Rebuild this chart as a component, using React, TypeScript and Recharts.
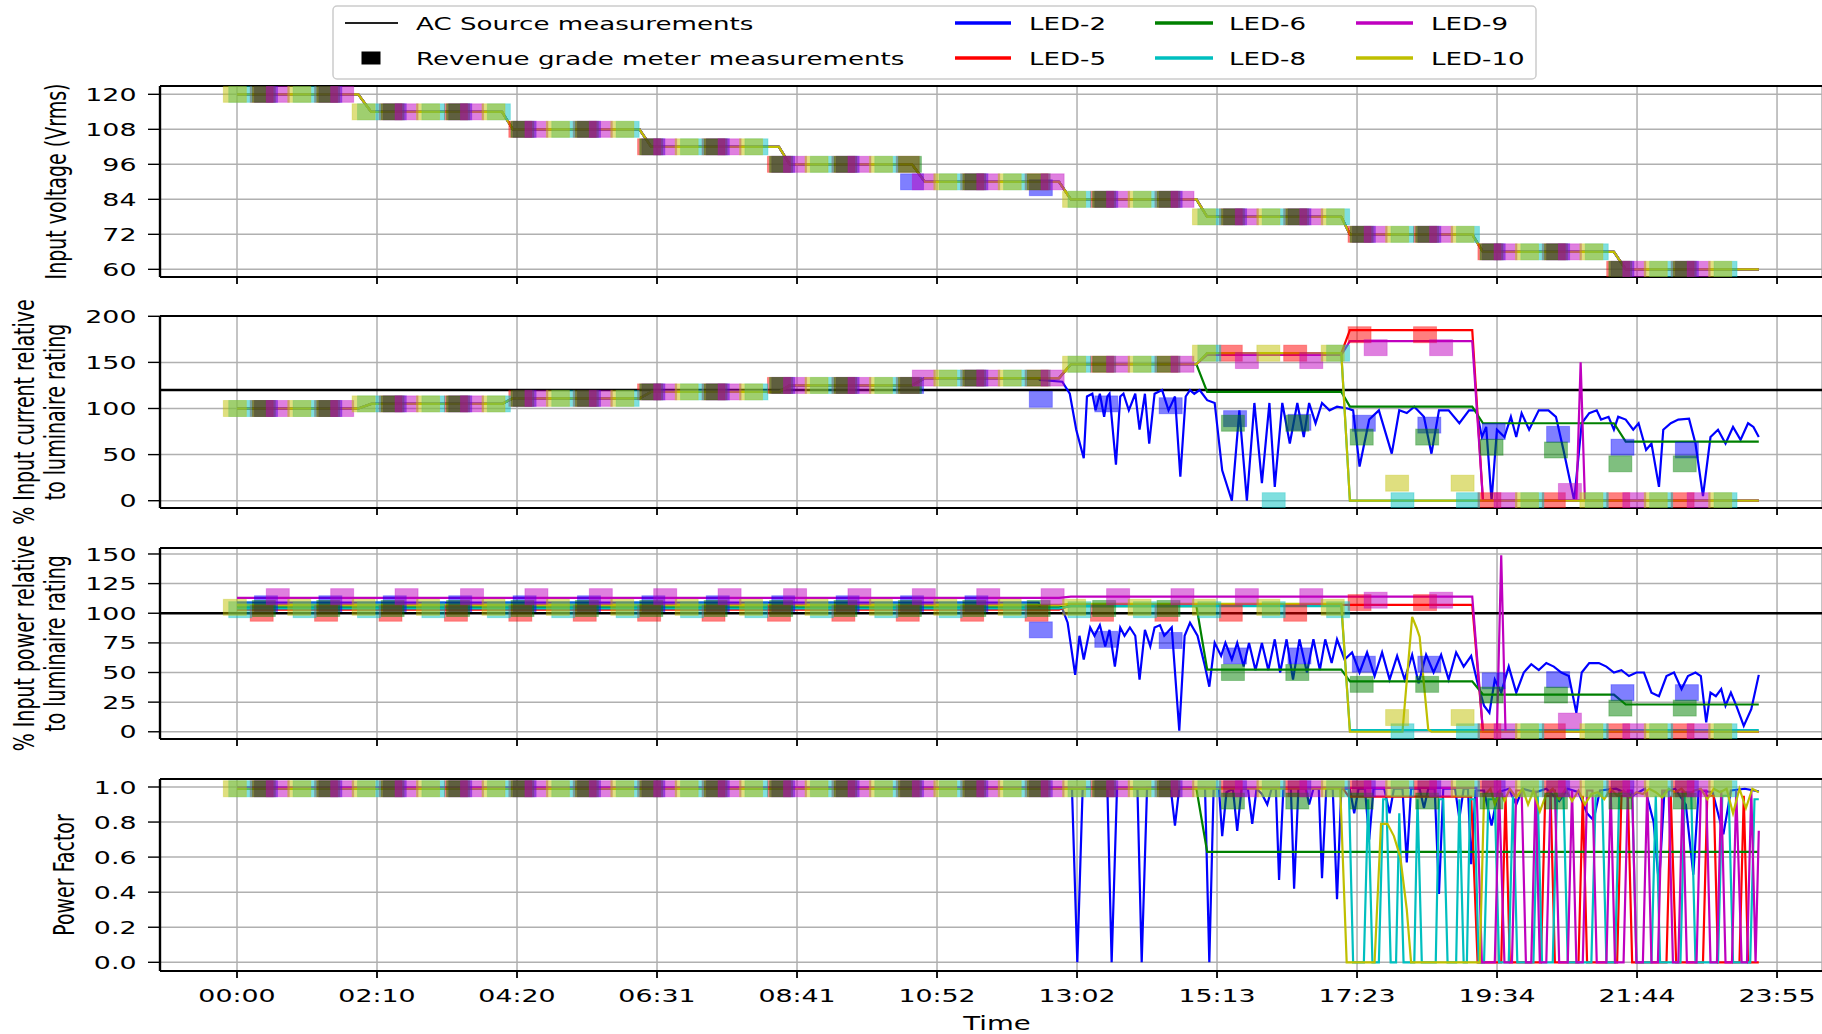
import React from 'react';
import { ComposedChart, Line, Scatter, XAxis, YAxis, CartesianGrid, ReferenceLine } from 'recharts';

type Pt = { t: number; v: number };
type Pair = [number, number];

const FONT = '"DejaVu Sans", sans-serif';
const SX = 1.45;
const W = 1822;

// ---------- shared axis data ----------
const ledNames = ['LED-2', 'LED-5', 'LED-6', 'LED-8', 'LED-9', 'LED-10'];
const ledColors = ['#0000ff', '#ff0000', '#008000', '#00bfbf', '#bf00bf', '#bfbf00'];
const xTickMinutes = [0, 130.45, 260.91, 391.36, 521.82, 652.27, 782.73, 913.18, 1043.64, 1174.09, 1304.55, 1435];
const xTickLabels = ['00:00', '02:10', '04:20', '06:31', '08:41', '10:52', '13:02', '15:13', '17:23', '19:34', '21:44', '23:55'];
const xDomain: [number, number] = [-71.75, 1476.9];

// step schedule (minutes)
const dropStart = [113, 247, 375, 505, 629, 766, 894, 1029, 1151, 1283];
const dropEnd = [125, 257, 386, 515, 641, 777, 904, 1037, 1161, 1294];
const endTime = 1418;

// revenue meter schedule (minutes) and per-LED offsets (LED-2,5,6,8,9,10)
const meterBase = [-37, 23, 83, 143, 204, 264, 324, 384, 444, 505, 565, 625, 685, 745, 806, 866, 926, 986, 1046, 1107, 1167, 1227, 1287, 1347, 1407];
const meterOffsets = [4, 0, 2, 40, 15, 35];

// ---------- panel 1: input voltage ----------
const voltageLevels = [120, 114, 108, 102, 96, 90, 84, 78, 72, 66, 60];
const volSqLED2 = [null, 120, 120, 114, 114, 108, 108, 102, 102, 96, 96, 90, 90, 88, 84, 84, 78, 78, 72, 72, 66, 66, 60, 60, null];
const volSqLED5 = [null, 120, 120, 114, 114, 108, 108, 102, 102, 96, 96, 96, 90, 90, 84, 84, 78, 78, 72, 72, 66, 66, 60, 60, null];
const volSqLED6 = [null, 120, 120, 114, 114, 108, 108, 102, 102, 96, 96, 96, 90, 90, 84, 84, 78, 78, 72, 72, 66, 66, 60, 60, null];
const volSqLED8 = [120, 120, 114, 114, 114, 108, 108, 102, 102, 96, 96, 90, 90, 84, 84, 78, 78, 78, 72, 72, 66, 66, 60, 60, null];
const volSqLED9 = [null, 120, 120, 114, 114, 108, 108, 102, 102, 96, 96, 90, 90, 90, 84, 84, 78, 78, 72, 72, 66, 66, 60, 60, null];
const volSqLED10 = [120, 120, 114, 114, 114, 108, 108, 102, 102, 96, 96, 90, 90, 84, 84, 78, 78, 78, 72, 72, 66, 66, 60, 60, null];

// ---------- panel 2: % input current ----------
const curLevelsLED2 = [100, 105, 111, 118, 125, 133];
const curNoisyLED2: Pair[] = [[748, 131], [769, 129], [776, 116], [782, 77], [789, 46], [792, 113], [797, 116], [800, 98], [804, 116], [808, 91], [811, 113], [813, 116], [819, 39], [823, 113], [826, 116], [831, 98], [837, 116], [841, 77], [846, 116], [850, 62], [855, 116], [862, 120], [868, 98], [874, 113], [879, 26], [884, 113], [888, 120], [892, 116], [897, 120], [904, 109], [911, 106], [918, 33], [927, 0], [934, 98], [941, 0], [948, 106], [955, 19], [962, 106], [967, 15], [974, 106], [981, 62], [988, 106], [994, 69], [999, 106], [1005, 84], [1011, 106], [1018, 98], [1025, 102], [1035, 100], [1040, 98], [1046, 37], [1055, 88], [1064, 98], [1076, 51], [1083, 98], [1090, 95], [1097, 102], [1106, 91], [1113, 51], [1120, 98], [1129, 98], [1139, 84], [1148, 98], [1155, 98], [1160, 69], [1164, 80], [1169, 0], [1174, 77], [1181, 69], [1187, 91], [1192, 69], [1197, 95], [1204, 77], [1213, 98], [1222, 98], [1229, 91], [1236, 55], [1246, 0], [1253, 84], [1260, 95], [1267, 98], [1271, 88], [1278, 91], [1283, 77], [1287, 91], [1294, 88], [1301, 77], [1306, 84], [1313, 55], [1318, 62], [1325, 15], [1329, 77], [1336, 84], [1343, 88], [1353, 89], [1359, 62], [1366, 5], [1373, 69], [1380, 77], [1387, 62], [1394, 80], [1401, 66], [1408, 84], [1413, 80], [1418, 69]];
const curLevelsLED5 = [100, 105, 111, 118, 125, 133, 148, 160, 185, 0, 0];
const curLevelsLED6 = [100, 105, 111, 118, 125, 133, 148, 118, 102, 84, 64];
const curLevelsLED8 = [100, 105, 111, 118, 125, 133, 148, 160, 0, 0, 0];
const curLevelsLED9 = [100, 105, 111, 118, 125, 133, 148, 158, 173, 0, 0];
const curSpikeLED9: Pair[] = [[1248, 0], [1252, 150], [1256, 0]];
const curLevelsLED10 = [100, 105, 111, 118, 125, 133, 148, 160, 0, 0, 0];
const curSqLED2 = [null, 100, 100, 105, 105, 111, 111, 118, 118, 125, 125, 125, 133, 110, 105, 103, 89, 85, 84, 82, 75, 72, 58, 55, null];
const curSqLED5 = [null, 100, 100, 105, 105, 111, 111, 118, 118, 125, 125, 125, 133, 133, 148, 148, 160, 160, 180, 180, 0, 0, 0, 0, null];
const curSqLED6 = [null, 100, 100, 105, 105, 111, 111, 118, 118, 125, 125, 125, 133, 133, 148, 148, 84, 84, 69, 69, 58, 55, 40, 40, null];
const curSqLED8 = [100, 100, 105, 105, 105, 111, 111, 118, 118, 125, 125, 133, 133, 148, 148, 160, 0, 160, 0, 0, 0, 0, 0, 0, null];
const curSqLED9 = [null, 100, 100, 105, 105, 111, 111, 118, 118, 125, 125, 133, 133, 133, 148, 148, 152, 152, 166, 166, 0, 10, 0, 0, null];
const curSqLED10 = [100, 100, 105, 105, 105, 111, 111, 118, 118, 125, 125, 133, 133, 148, 148, 160, 160, 160, 19, 19, 0, 0, 0, 0, null];

// ---------- panel 3: % input power ----------
const powLevelsLED2 = [109, 109, 109, 109, 109, 109];
const powNoisyLED2: Pair[] = [[748, 104], [769, 104], [774, 92], [781, 48], [785, 81], [789, 61], [795, 88], [799, 81], [804, 90], [809, 72], [813, 86], [818, 55], [823, 88], [827, 81], [832, 88], [837, 81], [841, 44], [846, 86], [851, 72], [855, 88], [860, 90], [864, 81], [871, 88], [878, 1], [883, 81], [888, 92], [895, 81], [902, 55], [906, 38], [911, 75], [917, 64], [921, 75], [927, 61], [932, 75], [938, 55], [943, 75], [949, 52], [955, 75], [961, 52], [967, 78], [972, 50], [978, 78], [984, 44], [990, 78], [997, 50], [1003, 78], [1009, 52], [1014, 78], [1020, 58], [1025, 78], [1032, 61], [1039, 67], [1046, 50], [1053, 67], [1060, 47], [1067, 67], [1074, 44], [1081, 64], [1088, 44], [1095, 65], [1101, 41], [1108, 65], [1115, 50], [1122, 65], [1129, 44], [1136, 67], [1143, 55], [1150, 64], [1156, 41], [1162, 22], [1167, 16], [1172, 44], [1178, 33], [1185, 55], [1192, 33], [1199, 50], [1206, 57], [1213, 52], [1220, 58], [1227, 55], [1234, 50], [1241, 47], [1248, 16], [1253, 50], [1260, 58], [1269, 58], [1276, 55], [1283, 50], [1290, 52], [1297, 47], [1304, 50], [1311, 50], [1318, 33], [1325, 30], [1332, 47], [1339, 50], [1346, 36], [1352, 47], [1359, 50], [1364, 47], [1369, 8], [1373, 33], [1378, 30], [1383, 36], [1387, 22], [1392, 33], [1397, 22], [1404, 5], [1411, 19], [1418, 48]];
const powLevelsLED5 = [103, 103, 103, 103, 103, 103, 107, 107, 107, 0, 0];
const powLevelsLED6 = [105, 105, 105, 105, 105, 105, 106, 52.5, 42.6, 31.4, 23];
const powLevelsLED8 = [104, 104, 104, 104, 104, 104, 106, 106, 1.5, 1.5, 1.5];
const powLevelsLED9 = [113, 113, 113, 113, 113, 113, 114, 114, 114, 0, 0];
const powSpikeLED9: Pair[] = [[1174, 0], [1178, 149], [1182, 0]];
const powLevelsLED10 = [107, 107, 107, 107, 107, 107, 108, 108, 0, 0, 0];
const powBumpLED10: Pair[] = [[1086, 0], [1095, 97], [1099, 88], [1102, 80], [1106, 40], [1110, 2], [1113, 0]];
const powSqLED2 = [null, 108, 108, 108, 108, 108, 108, 108, 108, 108, 108, 108, 108, 86, 78, 77, 64, 64, 57, 57, 43, 44, 33, 33, null];
const powSqLED5 = [null, 100, 100, 100, 100, 100, 100, 100, 100, 100, 100, 100, 100, 100, 100, 100, 100, 100, 109, 109, 0, 0, 0, 0, null];
const powSqLED6 = [null, 104, 104, 104, 104, 104, 104, 104, 104, 104, 104, 104, 104, 104, 104, 104, 50, 50, 40, 40, 31, 31, 20, 20, null];
const powSqLED8 = [103, 103, 103, 103, 103, 103, 103, 103, 103, 103, 103, 103, 103, 103, 103, 103, 103, 103, 0, 0, 0, 0, 0, 0, null];
const powSqLED9 = [null, 114, 114, 114, 114, 114, 114, 114, 114, 114, 114, 114, 114, 114, 114, 114, 114, 114, 111, 111, 0, 9, 0, 0, null];
const powSqLED10 = [105, 105, 105, 105, 105, 105, 105, 105, 105, 105, 105, 105, 105, 105, 105, 105, 105, 105, 12, 12, 0, 0, 0, 0, null];

// ---------- panel 4: power factor ----------
const pfLED2: Pair[] = [[0, 0.995], [778, 0.995], [783, 0], [788, 0.995], [811, 0.995], [815, 0], [820, 0.995], [839, 0.995], [843, 0], [848, 0.995], [870, 0.995], [874, 0.78], [878, 0.995], [902, 0.995], [906, 0], [910, 0.99], [915, 0.99], [918, 0.72], [922, 0.97], [928, 0.99], [932, 0.75], [936, 0.99], [942, 0.99], [946, 0.79], [950, 0.99], [955, 0.96], [960, 0.9], [964, 0.99], [968, 0.99], [971, 0.47], [975, 0.99], [982, 0.99], [985, 0.42], [989, 0.99], [996, 0.99], [999, 0.9], [1003, 0.99], [1008, 0.99], [1011, 0.48], [1015, 0.99], [1021, 0.99], [1025, 0.36], [1029, 0.99], [1037, 0.99], [1041, 0.85], [1045, 0.99], [1051, 0.99], [1055, 0.7], [1059, 0.99], [1069, 0.99], [1074, 0.85], [1078, 0.99], [1086, 0.99], [1090, 0.57], [1094, 0.99], [1102, 0.99], [1106, 0.88], [1110, 0.99], [1116, 0.99], [1120, 0.39], [1124, 0.99], [1135, 0.99], [1139, 0.82], [1143, 0.99], [1147, 0.99], [1150, 0.56], [1154, 0.98], [1162, 0.98], [1169, 0.78], [1175, 0.97], [1185, 0.99], [1192, 0.9], [1198, 0.99], [1210, 0.97], [1220, 0.99], [1232, 0.92], [1240, 0.99], [1250, 0.97], [1258, 0.85], [1264, 0.81], [1270, 0.98], [1285, 0.99], [1300, 0.95], [1312, 0.99], [1320, 0.8], [1325, 0.44], [1330, 0.97], [1340, 0.99], [1350, 0.9], [1357, 0.5], [1362, 0.98], [1375, 0.97], [1385, 0.73], [1392, 0.98], [1405, 0.99], [1418, 0.975]];
const pfLED5: Pair[] = [[0, 0.995], [1030, 0.995], [1036, 0.945], [1150, 0.945], [1156, 0], [1178, 0], [1182, 0.95], [1186, 0], [1215, 0], [1219, 0.95], [1224, 0.95], [1228, 0], [1250, 0], [1254, 0.95], [1258, 0], [1286, 0], [1290, 0.95], [1296, 0.95], [1300, 0], [1332, 0], [1336, 0.95], [1341, 0], [1366, 0], [1370, 0.95], [1376, 0.95], [1380, 0], [1400, 0], [1404, 0.95], [1408, 0], [1418, 0]];
const pfLevelsLED6 = [0.99, 0.99, 0.99, 0.99, 0.99, 0.99, 0.99, 0.63, 0.63, 0.63, 0.63];
const pfLED8: Pair[] = [[0, 0.995], [1036, 0.995], [1040, 0], [1050, 0], [1054, 0.93], [1058, 0], [1064, 0], [1068, 0.93], [1071, 0.93], [1075, 0], [1080, 0], [1083, 0.85], [1087, 0], [1097, 0], [1100, 0.93], [1104, 0], [1117, 0], [1120, 0.93], [1124, 0.93], [1128, 0], [1136, 0], [1139, 0.93], [1143, 0], [1146, 0], [1149, 0.93], [1153, 0.93], [1157, 0], [1162, 0], [1166, 0.93], [1172, 0.93], [1176, 0], [1185, 0], [1189, 0.95], [1193, 0], [1208, 0], [1212, 0.95], [1216, 0], [1226, 0], [1230, 0.95], [1236, 0.95], [1240, 0], [1262, 0], [1266, 0.95], [1272, 0.97], [1276, 0], [1284, 0], [1288, 0.97], [1300, 0.97], [1304, 0], [1318, 0], [1322, 0.95], [1326, 0], [1345, 0], [1349, 0.97], [1355, 0.97], [1359, 0], [1380, 0], [1384, 0.95], [1390, 0.95], [1394, 0], [1410, 0], [1414, 0.93], [1418, 0.93]];
const pfLED9: Pair[] = [[0, 0.995], [1155, 0.995], [1160, 0], [1172, 0], [1176, 0.98], [1181, 0], [1188, 0], [1192, 0.98], [1197, 0.98], [1201, 0], [1206, 0], [1210, 0.98], [1214, 0], [1220, 0], [1224, 0.98], [1228, 0.98], [1232, 0], [1240, 0], [1244, 0.98], [1248, 0], [1254, 0], [1258, 0.98], [1263, 0.98], [1267, 0], [1276, 0], [1280, 0.98], [1284, 0], [1292, 0], [1296, 0.98], [1300, 0.98], [1304, 0], [1310, 0], [1314, 0.98], [1318, 0], [1324, 0], [1328, 0.98], [1334, 0.98], [1338, 0], [1343, 0], [1347, 0.98], [1351, 0], [1360, 0], [1364, 0.98], [1369, 0.98], [1373, 0], [1379, 0], [1383, 0.98], [1387, 0], [1393, 0], [1397, 0.98], [1402, 0], [1407, 0], [1411, 0.98], [1415, 0], [1418, 0.75]];
const pfLED10: Pair[] = [[0, 0.99], [1028, 0.99], [1034, 0], [1060, 0], [1066, 0.79], [1072, 0.79], [1078, 0.72], [1084, 0.6], [1090, 0.3], [1094, 0], [1158, 0], [1162, 0.95], [1168, 0.99], [1172, 0.9], [1177, 0.98], [1181, 0.92], [1186, 0.99], [1192, 0.94], [1198, 0.99], [1203, 0.9], [1208, 0.98], [1214, 0.86], [1220, 0.96], [1226, 0.99], [1232, 0.93], [1238, 0.99], [1244, 0.92], [1250, 0.98], [1256, 0.9], [1262, 0.96], [1268, 0.97], [1274, 0.93], [1280, 0.99], [1286, 0.95], [1292, 0.98], [1298, 0.94], [1304, 0.97], [1310, 0.96], [1316, 0.99], [1322, 0.97], [1328, 0.94], [1334, 0.99], [1340, 0.97], [1346, 0.99], [1352, 0.95], [1358, 0.98], [1364, 0.99], [1370, 0.93], [1376, 0.99], [1382, 0.97], [1388, 0.99], [1394, 0.85], [1400, 0.99], [1406, 0.88], [1412, 0.99], [1418, 0.97]];
const pfSqLED2 = [null, 0.99, 0.99, 0.99, 0.99, 0.99, 0.99, 0.99, 0.99, 0.99, 0.99, 0.99, 0.99, 0.99, 0.99, 0.99, 0.99, 0.99, 0.99, 0.99, 0.99, 0.99, 0.99, 0.99, null];
const pfSqLED5 = [null, 0.99, 0.99, 0.99, 0.99, 0.99, 0.99, 0.99, 0.99, 0.99, 0.99, 0.99, 0.99, 0.99, 0.99, 0.99, 0.99, 0.99, 0.99, 0.99, 0.99, 0.99, 0.99, 0.99, null];
const pfSqLED6 = [null, 0.99, 0.99, 0.99, 0.99, 0.99, 0.99, 0.99, 0.99, 0.99, 0.99, 0.99, 0.99, 0.99, 0.99, 0.99, 0.92, 0.92, 0.92, 0.92, 0.92, 0.92, 0.92, 0.92, null];
const pfSqLED8 = [0.99, 0.99, 0.99, 0.99, 0.99, 0.99, 0.99, 0.99, 0.99, 0.99, 0.99, 0.99, 0.99, 0.99, 0.99, 0.99, 0.99, 0.99, 0.99, 0.99, 0.99, 0.99, 0.99, 0.99, null];
const pfSqLED9 = [null, 0.99, 0.99, 0.99, 0.99, 0.99, 0.99, 0.99, 0.99, 0.99, 0.99, 0.99, 0.99, 0.99, 0.99, 0.99, 0.99, 0.99, 0.99, 0.99, 0.99, 0.99, 0.99, 0.99, null];
const pfSqLED10 = [0.99, 0.99, 0.99, 0.99, 0.99, 0.99, 0.99, 0.99, 0.99, 0.99, 0.99, 0.99, 0.99, 0.99, 0.99, 0.99, 0.99, 0.99, 0.99, 0.99, 0.99, 0.99, 0.99, 0.99, null];

// ---------- helpers ----------
function stepSeries(levels: number[], until: number = endTime): Pt[] {
  const pts: Pt[] = [];
  for (let k = 0; k < levels.length; k++) {
    const s = k === 0 ? 0 : dropEnd[k - 1];
    if (s > until) break;
    const e = k === levels.length - 1 ? until : Math.min(dropStart[k], until);
    pts.push({ t: s, v: levels[k] }, { t: e, v: levels[k] });
  }
  return pts;
}
const toPts = (p: Pair[]): Pt[] => p.map(([t, v]) => ({ t, v }));
const merge = (a: Pt[], b: Pair[]): Pt[] => [...a, ...toPts(b)].sort((x, y) => x.t - y.t);
function squarePts(led: number, vals: (number | null)[]): Pt[] {
  const out: Pt[] = [];
  vals.forEach((v, i) => {
    if (v === null || v === undefined) return;
    const t = meterBase[i] + meterOffsets[led];
    if (t < -5 || t > endTime) return;
    out.push({ t, v });
  });
  return out;
}

interface PanelCfg {
  top: number;
  bottom: number;
  domain: [number, number];
  ticks: number[];
  fmt: (v: number) => string;
  lines: Pt[][];
  squares: Pt[][];
  refY: number | null;
  labelLines: string[];
  labelX: number[];
}

const panels: PanelCfg[] = [
  {
    top: 86, bottom: 277, domain: [57.37, 122.85], ticks: [60, 72, 84, 96, 108, 120], fmt: (v) => String(v),
    lines: [0, 1, 2, 3, 4, 5].map(() => stepSeries(voltageLevels)),
    squares: [volSqLED2, volSqLED5, volSqLED6, volSqLED8, volSqLED9, volSqLED10].map((s, i) => squarePts(i, s)),
    refY: null, labelLines: ['Input voltage (Vrms)'], labelX: [57],
  },
  {
    top: 316, bottom: 508, domain: [-7.9, 200.3], ticks: [0, 50, 100, 150, 200], fmt: (v) => String(v),
    lines: [
      merge(stepSeries(curLevelsLED2, 747), curNoisyLED2),
      stepSeries(curLevelsLED5),
      stepSeries(curLevelsLED6),
      stepSeries(curLevelsLED8),
      merge(stepSeries(curLevelsLED9), curSpikeLED9),
      stepSeries(curLevelsLED10),
    ],
    squares: [curSqLED2, curSqLED5, curSqLED6, curSqLED8, curSqLED9, curSqLED10].map((s, i) => squarePts(i, s)),
    refY: 120, labelLines: ['% Input current relative', 'to luminaire rating'], labelX: [25, 56],
  },
  {
    top: 548, bottom: 739, domain: [-6.1, 155.05], ticks: [0, 25, 50, 75, 100, 125, 150], fmt: (v) => String(v),
    lines: [
      merge(stepSeries(powLevelsLED2, 747), powNoisyLED2),
      stepSeries(powLevelsLED5),
      stepSeries(powLevelsLED6),
      stepSeries(powLevelsLED8),
      merge(stepSeries(powLevelsLED9), powSpikeLED9),
      merge(stepSeries(powLevelsLED10), powBumpLED10),
    ],
    squares: [powSqLED2, powSqLED5, powSqLED6, powSqLED8, powSqLED9, powSqLED10].map((s, i) => squarePts(i, s)),
    refY: 100, labelLines: ['% Input power relative', 'to luminaire rating'], labelX: [25, 56],
  },
  {
    top: 779, bottom: 971, domain: [-0.0496, 1.0456], ticks: [0, 0.2, 0.4, 0.6, 0.8, 1.0], fmt: (v) => v.toFixed(1),
    lines: [toPts(pfLED2), toPts(pfLED5), stepSeries(pfLevelsLED6), toPts(pfLED8), toPts(pfLED9), toPts(pfLED10)],
    squares: [pfSqLED2, pfSqLED5, pfSqLED6, pfSqLED8, pfSqLED9, pfSqLED10].map((s, i) => squarePts(i, s)),
    refY: null, labelLines: ['Power Factor'], labelX: [65],
  },
];

const SQ_W = 23;
const SQ_H = 16;
const makeSquare = (color: string) => (props: any) => {
  const { cx, cy } = props;
  if (cx == null || cy == null || isNaN(cx) || isNaN(cy)) return <g />;
  return (
    <rect x={cx - SQ_W / 2} y={cy - SQ_H / 2} width={SQ_W} height={SQ_H} fill={color} fillOpacity={0.5}
      stroke={color} strokeOpacity={0.3} strokeWidth={1} />
  );
};

const XTickLabel = (props: any) => {
  const { x, y, index } = props;
  const label = xTickLabels[index] ?? '';
  return (
    <text transform={`translate(${x},${y + 21.5}) scale(${SX},1)`} textAnchor="middle" fontFamily={FONT} fontSize={18.5} fill="#000">
      {label}
    </text>
  );
};
const NoTick = () => <g />;
const makeYTick = (fmt: (v: number) => string) => (props: any) => {
  const { x, y, payload } = props;
  return (
    <text transform={`translate(${x},${y + 6.6}) scale(${SX},1)`} textAnchor="end" fontFamily={FONT} fontSize={18.5} fill="#000">
      {fmt(payload.value)}
    </text>
  );
};

function Panel({ cfg, last }: { cfg: PanelCfg; last: boolean }) {
  const xh = last ? 60 : 20;
  const H = cfg.bottom - cfg.top + 10 + xh;
  return (
    <div style={{ position: 'absolute', left: 0, top: cfg.top - 10 }}>
      <ComposedChart width={W} height={H} margin={{ top: 10, right: 0, bottom: 0, left: 0 }}>
        <CartesianGrid stroke="#b0b0b0" strokeWidth={1.5} />
        <XAxis dataKey="t" type="number" domain={xDomain} allowDataOverflow ticks={xTickMinutes} interval={0}
          height={xh} tickSize={7} tickMargin={2}
          axisLine={{ stroke: '#000', strokeWidth: 2 }} tickLine={{ stroke: '#000', strokeWidth: 1.8 }}
          tick={last ? XTickLabel : NoTick} />
        <YAxis type="number" domain={cfg.domain} allowDataOverflow ticks={cfg.ticks} interval={0} width={160}
          tickSize={12} tickMargin={11.5}
          axisLine={{ stroke: '#000', strokeWidth: 2.4 }} tickLine={{ stroke: '#000', strokeWidth: 1.4 }}
          tick={makeYTick(cfg.fmt)} />
        <ReferenceLine y={cfg.domain[1]} stroke="#000" strokeWidth={2} />
        {cfg.refY !== null && <ReferenceLine y={cfg.refY} stroke="#000" strokeWidth={2.5} />}
        {cfg.squares.map((pts, i) => (
          <Scatter key={`s${i}`} data={pts} dataKey="v" fill={ledColors[i]} shape={makeSquare(ledColors[i])} isAnimationActive={false} />
        ))}
        {cfg.lines.map((pts, i) => (
          <Line key={`l${i}`} data={pts} dataKey="v" type="linear" stroke={ledColors[i]} strokeWidth={2.2}
            dot={false} activeDot={false} isAnimationActive={false} />
        ))}
      </ComposedChart>
    </div>
  );
}

function StretchText({ x, y, children, anchor = 'start', size = 18 }: any) {
  return (
    <text transform={`translate(${x},${y}) scale(${SX},1)`} textAnchor={anchor} fontFamily={FONT} fontSize={size} fill="#000">
      {children}
    </text>
  );
}

function Overlay() {
  const legendRows = [
    { y: 23, base: 30 },
    { y: 58, base: 65 },
  ];
  const ledCols = [
    { x1: 955, x2: 1011, tx: 1029 },
    { x1: 1155, x2: 1213, tx: 1229 },
    { x1: 1356, x2: 1413, tx: 1431 },
  ];
  return (
    <svg width={W} height={1034} style={{ position: 'absolute', left: 0, top: 0, pointerEvents: 'none' }}>
      {/* legend */}
      <rect x={333} y={6} width={1203} height={73} rx={4} fill="#fff" fillOpacity={0.85} stroke="#cccccc" strokeWidth={1.5} />
      <line x1={345} x2={398} y1={legendRows[0].y} y2={legendRows[0].y} stroke="#222" strokeWidth={2} />
      <StretchText x={416} y={legendRows[0].base}>AC Source measurements</StretchText>
      <rect x={361.5} y={51.5} width={19} height={13} fill="#000" />
      <StretchText x={416} y={legendRows[1].base}>Revenue grade meter measurements</StretchText>
      {ledNames.map((name, i) => {
        const col = ledCols[Math.floor(i / 2)];
        const row = legendRows[i % 2];
        return (
          <g key={name}>
            <line x1={col.x1} x2={col.x2} y1={row.y} y2={row.y} stroke={ledColors[i]} strokeWidth={3.5} />
            <StretchText x={col.tx} y={row.base}>{name}</StretchText>
          </g>
        );
      })}
      {/* y-axis labels */}
      {panels.map((p, pi) => {
        const cy = (p.top + p.bottom) / 2;
        return p.labelLines.map((txt, li) => (
          <text key={`${pi}-${li}`} transform={`translate(${p.labelX[li]},${cy}) scale(${SX},1) rotate(-90)`}
            textAnchor="middle" dominantBaseline="central" fontFamily={FONT} fontSize={19} fill="#000">
            {txt}
          </text>
        ));
      })}
      <StretchText x={997} y={1030} anchor="middle" size={19}>Time</StretchText>
    </svg>
  );
}

export default function App() {
  return (
    <div style={{ position: 'absolute', left: 0, top: 0, width: W, height: 1034, overflow: 'hidden', background: '#fff' }}>
      {panels.map((p, i) => (
        <Panel key={i} cfg={p} last={i === panels.length - 1} />
      ))}
      <Overlay />
    </div>
  );
}
